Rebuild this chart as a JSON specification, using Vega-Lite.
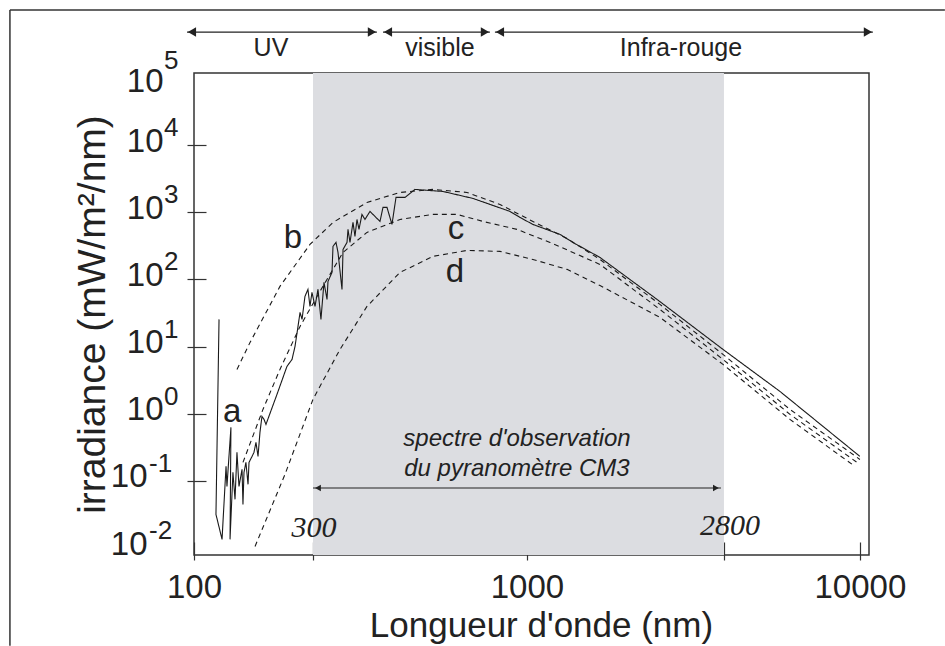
{
  "$schema": "https://vega.github.io/schema/vega-lite/v6.json",
  "width": 675,
  "height": 482,
  "autosize": "none",
  "padding": {"left": 194, "top": 73, "right": 76, "bottom": 91},
  "background": "white",
  "config": {"view": {"stroke": "#333", "strokeWidth": 1.5}, "font": "Liberation Sans"},
  "datasets": {
    "curves": [
      {"s":"a","o":1,"x":118.9,"y":25.4},{"s":"a","o":2,"x":116.4,"y":0.0318},{"s":"a","o":3,"x":121.4,"y":0.0135},{"s":"a","o":4,"x":124.8,"y":0.165},{"s":"a","o":5,"x":125.6,"y":0.083},{"s":"a","o":6,"x":129.1,"y":0.627},{"s":"a","o":7,"x":128.3,"y":0.0135},{"s":"a","o":8,"x":130.9,"y":0.134},{"s":"a","o":9,"x":132.8,"y":0.0532},{"s":"a","o":10,"x":134.6,"y":0.266},{"s":"a","o":11,"x":136.5,"y":0.083},{"s":"a","o":12,"x":139.4,"y":0.149},{"s":"a","o":13,"x":140.3,"y":0.0448},{"s":"a","o":14,"x":141.3,"y":0.134},{"s":"a","o":15,"x":143.2,"y":0.189},{"s":"a","o":16,"x":145.3,"y":0.089},{"s":"a","o":17,"x":146.3,"y":0.189},{"s":"a","o":18,"x":149.4,"y":0.232},{"s":"a","o":19,"x":151.4,"y":0.266},{"s":"a","o":20,"x":153.5,"y":0.375},{"s":"a","o":21,"x":155.7,"y":0.232},{"s":"a","o":22,"x":157.8,"y":0.528},{"s":"a","o":23,"x":160.0,"y":0.914},{"s":"a","o":24,"x":162.3,"y":0.824},{"s":"a","o":25,"x":164.5,"y":0.695},{"s":"a","o":26,"x":177.5,"y":1.94},{"s":"a","o":27,"x":190.2,"y":5.07},{"s":"a","o":28,"x":197.0,"y":6.44},{"s":"a","o":29,"x":201.1,"y":10.07},{"s":"a","o":30,"x":205.3,"y":19.95},{"s":"a","o":31,"x":208.2,"y":32.2},{"s":"a","o":32,"x":211.1,"y":25.4},{"s":"a","o":33,"x":215.4,"y":55.8},{"s":"a","o":34,"x":219.9,"y":71.0},{"s":"a","o":35,"x":223.0,"y":39.6},{"s":"a","o":36,"x":226.1,"y":64.0},{"s":"a","o":37,"x":230.9,"y":39.6},{"s":"a","o":38,"x":235.7,"y":71.0},{"s":"a","o":39,"x":240.6,"y":25.4},{"s":"a","o":40,"x":245.7,"y":90.2},{"s":"a","o":41,"x":250.9,"y":50.4},{"s":"a","o":42,"x":252.6,"y":93.3},{"s":"a","o":43,"x":259.7,"y":127},{"s":"a","o":44,"x":261.5,"y":310},{"s":"a","o":45,"x":267.0,"y":355},{"s":"a","o":46,"x":270.7,"y":252},{"s":"a","o":47,"x":278.3,"y":71.0},{"s":"a","o":48,"x":280.3,"y":279},{"s":"a","o":49,"x":288.1,"y":355},{"s":"a","o":50,"x":290.1,"y":555},{"s":"a","o":51,"x":294.1,"y":355},{"s":"a","o":52,"x":300.3,"y":705},{"s":"a","o":53,"x":304.4,"y":437},{"s":"a","o":54,"x":308.7,"y":780},{"s":"a","o":55,"x":313.0,"y":555},{"s":"a","o":56,"x":319.5,"y":927},{"s":"a","o":57,"x":326.2,"y":780},{"s":"a","o":58,"x":337.7,"y":1028},{"s":"a","o":59,"x":349.6,"y":865},{"s":"a","o":60,"x":361.9,"y":729},{"s":"a","o":61,"x":369.5,"y":1178},{"s":"a","o":62,"x":379.9,"y":1178},{"s":"a","o":63,"x":393.2,"y":658},{"s":"a","o":64,"x":404.3,"y":1660},{"s":"a","o":65,"x":430.4,"y":1660},{"s":"a","o":66,"x":461.0,"y":2183},{"s":"a","o":67,"x":559.5,"y":2037},{"s":"a","o":68,"x":688.4,"y":1603},{"s":"a","o":69,"x":889.0,"y":1028},{"s":"a","o":70,"x":952.8,"y":836},{"s":"a","o":71,"x":1042,"y":658},{"s":"a","o":72,"x":1257,"y":467},{"s":"a","o":73,"x":1374,"y":355},{"s":"a","o":74,"x":1657,"y":212},{"s":"a","o":75,"x":2458,"y":50.4},{"s":"a","o":76,"x":3879,"y":9.08},{"s":"a","o":77,"x":5753,"y":2.15},{"s":"a","o":78,"x":10000,"y":0.232},
      {"s":"b","o":1,"x":134.6,"y":4.57},{"s":"b","o":2,"x":147.3,"y":11.5},{"s":"b","o":3,"x":181.2,"y":78.6},{"s":"b","o":4,"x":223.0,"y":331},{"s":"b","o":5,"x":261.5,"y":705},{"s":"b","o":6,"x":330.7,"y":1396},{"s":"b","o":7,"x":415.7,"y":1968},{"s":"b","o":8,"x":522.2,"y":2183},{"s":"b","o":9,"x":660.5,"y":1968},{"s":"b","o":10,"x":829.7,"y":1306},{"s":"b","o":11,"x":1042,"y":729},{"s":"b","o":12,"x":1319,"y":407},{"s":"b","o":13,"x":1657,"y":198},{"s":"b","o":14,"x":2509,"y":42.4},{"s":"b","o":15,"x":3879,"y":7.65},{"s":"b","o":16,"x":6165,"y":1.16},{"s":"b","o":17,"x":10000,"y":0.209},
      {"s":"c","o":1,"x":140.3,"y":0.189},{"s":"c","o":2,"x":161.1,"y":1.16},{"s":"c","o":3,"x":181.2,"y":4.57},{"s":"c","o":4,"x":208.2,"y":19.95},{"s":"c","o":5,"x":238.9,"y":66.2},{"s":"c","o":6,"x":280.3,"y":252},{"s":"c","o":7,"x":330.7,"y":500},{"s":"c","o":8,"x":415.7,"y":781},{"s":"c","o":9,"x":522.2,"y":927},{"s":"c","o":10,"x":616.6,"y":927},{"s":"c","o":11,"x":737.7,"y":729},{"s":"c","o":12,"x":933.3,"y":555},{"s":"c","o":13,"x":1173,"y":355},{"s":"c","o":14,"x":1657,"y":167},{"s":"c","o":15,"x":2509,"y":35.7},{"s":"c","o":16,"x":3879,"y":6.44},{"s":"c","o":17,"x":6165,"y":0.98},{"s":"c","o":18,"x":9795,"y":0.189},
      {"s":"d","o":1,"x":152.5,"y":0.0106},{"s":"d","o":2,"x":187.6,"y":0.125},{"s":"d","o":3,"x":227.7,"y":1.64},{"s":"d","o":4,"x":274.5,"y":9.08},{"s":"d","o":5,"x":330.7,"y":39.6},{"s":"d","o":6,"x":415.7,"y":127},{"s":"d","o":7,"x":522.2,"y":220},{"s":"d","o":8,"x":660.5,"y":270},{"s":"d","o":9,"x":829.7,"y":261},{"s":"d","o":10,"x":1042,"y":198},{"s":"d","o":11,"x":1319,"y":141},{"s":"d","o":12,"x":1657,"y":81},{"s":"d","o":13,"x":2509,"y":27.2},{"s":"d","o":14,"x":3879,"y":5.43},{"s":"d","o":15,"x":6165,"y":0.824},{"s":"d","o":16,"x":9660,"y":0.165}
    ],
    "band": [{"x": 227.7, "x2": 3906}],
    "frame": [
      {"x": 28, "x2": 18000, "y": 1020000, "y2": 1020000},
      {"x": 28, "x2": 28, "y": 1020000, "y2": 0.000351}
    ],
    "arrows": [
      {"g": "top", "x": 95.3, "x2": 354.3, "y": 480000, "y2": 480000},
      {"g": "top", "x": 369.5, "x2": 774.2, "y": 480000, "y2": 480000},
      {"g": "top", "x": 801.4, "x2": 10940, "y": 480000, "y2": 480000},
      {"g": "cm3", "x": 227.7, "x2": 3825, "y": 0.0785, "y2": 0.0785}
    ],
    "heads": [
      {"g": "top", "d": "L", "x": 98.6, "y": 480000},
      {"g": "top", "d": "R", "x": 342.3, "y": 480000},
      {"g": "top", "d": "L", "x": 382.5, "y": 480000},
      {"g": "top", "d": "R", "x": 747.9, "y": 480000},
      {"g": "top", "d": "L", "x": 829.7, "y": 480000},
      {"g": "top", "d": "R", "x": 10570, "y": 480000},
      {"g": "cm3", "d": "L", "x": 235.7, "y": 0.0785},
      {"g": "cm3", "d": "R", "x": 3695, "y": 0.0785}
    ],
    "exps": [
      {"e": "5", "v": 100000}, {"e": "4", "v": 10000}, {"e": "3", "v": 1000}, {"e": "2", "v": 100},
      {"e": "1", "v": 10}, {"e": "0", "v": 1}, {"e": "-1", "v": 0.1}, {"e": "-2", "v": 0.01}
    ],
    "regions": [
      {"t": "UV", "x": 170.3, "y": 277000},
      {"t": "visible", "x": 547.9, "y": 277000},
      {"t": "Infra-rouge", "x": 2901, "y": 277000}
    ],
    "curvelabels": [
      {"t": "a", "x": 130.1, "y": 1.06},
      {"t": "b", "x": 198.3, "y": 413},
      {"t": "c", "x": 612.1, "y": 562},
      {"t": "d", "x": 607.9, "y": 128.8}
    ],
    "note": [
      {"t": "spectre d'observation", "x": 933.3, "y": 0.4217},
      {"t": "du pyranomètre CM3", "x": 933.3, "y": 0.151}
    ],
    "limits": [
      {"t": "300", "x": 229.3, "y": 0.02},
      {"t": "2800", "x": 4070, "y": 0.0214}
    ]
  },
  "layer": [
    {
      "data": {"name": "band"},
      "mark": {"type": "rect", "color": "#dcdde1"},
      "encoding": {
        "x": {"field": "x", "type": "quantitative", "scale": {"type": "log", "domain": [100, 10650]},
          "axis": {"values": [100, 227.7, 1000, 3906, 10000],
            "labelExpr": "datum.value==100||datum.value==1000||datum.value==10000 ? format(datum.value,'d') : ''",
            "offset": -13, "domain": false, "grid": false, "tickSize": 18, "tickColor": "#333", "tickWidth": 1.2,
            "labelFontSize": 33, "labelColor": "#222", "labelPadding": 11, "labelOverlap": false, "labelFlush": false,
            "title": "Longueur d'onde (nm)", "titleFontSize": 35, "titleFontWeight": "normal", "titleColor": "#222", "titlePadding": 4, "titleX": 347}},
        "x2": {"field": "x2"}
      }
    },
    {
      "data": {"name": "curves"},
      "mark": {"type": "line", "color": "#1a1a1a", "strokeWidth": 1.1},
      "encoding": {
        "x": {"field": "x", "type": "quantitative", "scale": {"type": "log", "domain": [100, 10650]}},
        "y": {"field": "y", "type": "quantitative", "scale": {"type": "log", "domain": [0.0079, 118000]},
          "axis": {"values": [0.01, 0.1, 1, 10, 100, 1000, 10000, 100000],
            "labelExpr": "'10'",
            "offset": -12, "domain": false, "grid": false, "tickSize": 19, "tickColor": "#333", "tickWidth": 1.2,
            "tickOpacity": {"condition": {"test": "datum.value > 50000 || datum.value < 0.05", "value": 0}, "value": 1},
            "labelFontSize": 33, "labelColor": "#222",
            "labelOffset": {"condition": {"test": "datum.value > 50000", "value": 4}, "value": -4},
            "labelPadding": {"condition": {"test": "datum.value < 0.5", "value": 40}, "value": 24},
            "labelOverlap": false, "labelFlush": false,
            "title": "irradiance (mW/m²/nm)", "titleFontSize": 39, "titleFontWeight": "normal", "titleColor": "#222", "titlePadding": -2}},
        "order": {"field": "o", "type": "quantitative"},
        "detail": {"field": "s"},
        "strokeDash": {"field": "s", "type": "nominal", "scale": {"domain": ["a", "b", "c", "d"], "range": [[1, 0], [5, 4], [5, 4], [5, 4]]}, "legend": null}
      }
    },
    {
      "data": {"name": "exps"},
      "transform": [{"filter": "datum.v >= 0.5"}],
      "mark": {"type": "text", "fontSize": 26, "color": "#222", "align": "left", "baseline": "middle", "dy": -17},
      "encoding": {
        "x": {"datum": 81.3, "type": "quantitative", "scale": {"type": "log", "domain": [100, 10650]}},
        "y": {"field": "v", "type": "quantitative", "scale": {"type": "log", "domain": [0.0079, 118000]}},
        "text": {"field": "e"}
      }
    },
    {
      "data": {"name": "exps"},
      "transform": [{"filter": "datum.v < 0.5"}],
      "mark": {"type": "text", "fontSize": 26, "color": "#222", "align": "left", "baseline": "middle", "dy": -17},
      "encoding": {
        "x": {"datum": 73.3, "type": "quantitative", "scale": {"type": "log", "domain": [100, 10650]}},
        "y": {"field": "v", "type": "quantitative", "scale": {"type": "log", "domain": [0.0079, 118000]}},
        "text": {"field": "e"}
      }
    },
    {
      "data": {"name": "frame"},
      "mark": {"type": "rule", "color": "#333", "strokeWidth": 1.5},
      "encoding": {
        "x": {"field": "x", "type": "quantitative", "scale": {"type": "log", "domain": [100, 10650]}},
        "x2": {"field": "x2"},
        "y": {"field": "y", "type": "quantitative", "scale": {"type": "log", "domain": [0.0079, 118000]}},
        "y2": {"field": "y2"}
      }
    },
    {
      "data": {"name": "arrows"},
      "mark": {"type": "rule", "color": "#222", "strokeWidth": 1.2},
      "encoding": {
        "x": {"field": "x", "type": "quantitative", "scale": {"type": "log", "domain": [100, 10650]}},
        "x2": {"field": "x2"},
        "y": {"field": "y", "type": "quantitative", "scale": {"type": "log", "domain": [0.0079, 118000]}},
        "y2": {"field": "y2"}
      }
    },
    {
      "data": {"name": "heads"},
      "mark": {"type": "point", "filled": true, "color": "#222", "opacity": 1},
      "encoding": {
        "x": {"field": "x", "type": "quantitative", "scale": {"type": "log", "domain": [100, 10650]}},
        "y": {"field": "y", "type": "quantitative", "scale": {"type": "log", "domain": [0.0079, 118000]}},
        "shape": {"field": "d", "type": "nominal", "scale": {"domain": ["L", "R"], "range": ["triangle-left", "triangle-right"]}, "legend": null},
        "size": {"field": "g", "type": "nominal", "scale": {"domain": ["top", "cm3"], "range": [90, 45]}, "legend": null}
      }
    },
    {
      "data": {"name": "regions"},
      "mark": {"type": "text", "fontSize": 25, "color": "#222", "baseline": "middle", "align": "center"},
      "encoding": {
        "x": {"field": "x", "type": "quantitative", "scale": {"type": "log", "domain": [100, 10650]}},
        "y": {"field": "y", "type": "quantitative", "scale": {"type": "log", "domain": [0.0079, 118000]}},
        "text": {"field": "t"}
      }
    },
    {
      "data": {"name": "curvelabels"},
      "mark": {"type": "text", "fontSize": 33, "color": "#222", "baseline": "middle", "align": "center"},
      "encoding": {
        "x": {"field": "x", "type": "quantitative", "scale": {"type": "log", "domain": [100, 10650]}},
        "y": {"field": "y", "type": "quantitative", "scale": {"type": "log", "domain": [0.0079, 118000]}},
        "text": {"field": "t"}
      }
    },
    {
      "data": {"name": "note"},
      "mark": {"type": "text", "fontSize": 24, "fontStyle": "italic", "color": "#222", "baseline": "middle", "align": "center"},
      "encoding": {
        "x": {"field": "x", "type": "quantitative", "scale": {"type": "log", "domain": [100, 10650]}},
        "y": {"field": "y", "type": "quantitative", "scale": {"type": "log", "domain": [0.0079, 118000]}},
        "text": {"field": "t"}
      }
    },
    {
      "data": {"name": "limits"},
      "mark": {"type": "text", "fontSize": 30, "font": "Liberation Serif", "fontStyle": "italic", "color": "#222", "baseline": "middle", "align": "center"},
      "encoding": {
        "x": {"field": "x", "type": "quantitative", "scale": {"type": "log", "domain": [100, 10650]}},
        "y": {"field": "y", "type": "quantitative", "scale": {"type": "log", "domain": [0.0079, 118000]}},
        "text": {"field": "t"}
      }
    }
  ]
}
